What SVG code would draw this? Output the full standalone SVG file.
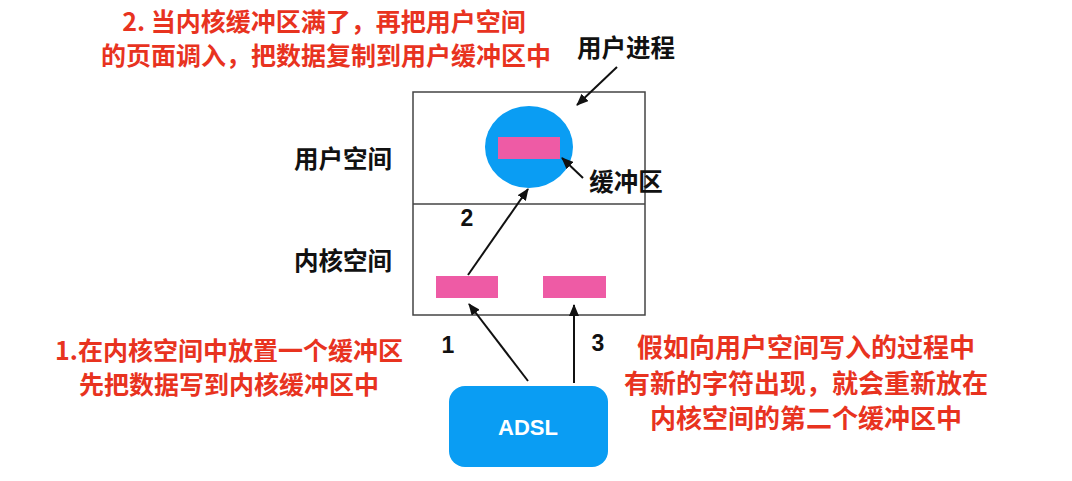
<svg xmlns="http://www.w3.org/2000/svg" width="1072" height="481" viewBox="0 0 1072 481">
<style>
.red{font-family:"Noto Sans CJK SC","Noto Sans",sans-serif;font-size:25px;font-weight:bold;fill:#E8331F;text-anchor:middle;dominant-baseline:central}
.r26{font-size:26px}
.blk{font-family:"Noto Sans CJK SC","Noto Sans",sans-serif;font-size:24.5px;font-weight:bold;fill:#111;text-anchor:middle;dominant-baseline:central}
.num{font-family:"Liberation Sans",Arial,sans-serif;font-size:23px;font-weight:bold;fill:#111;text-anchor:middle;dominant-baseline:central}
.buf{fill:#EE5BA5}
.conn{stroke:#111;stroke-width:2;fill:none;marker-end:url(#ah)}
</style>
<defs>
<marker id="ah" markerWidth="12" markerHeight="10" refX="11" refY="5" orient="auto" markerUnits="userSpaceOnUse">
<path d="M0,0 L12,5 L0,10 Z" fill="#111"/>
</marker>
</defs>
<rect width="1072" height="481" fill="#fff"/>
<g id="box">
<rect x="413" y="92" width="232" height="223" fill="none" stroke="#444" stroke-width="1.5"/>
<line x1="413" y1="204" x2="645" y2="204" stroke="#444" stroke-width="1.5"/>
</g>
<g id="user-process">
<ellipse cx="529" cy="147" rx="44" ry="41" fill="#0A9DF3"/>
<rect class="buf" x="498" y="137" width="62" height="22"/>
</g>
<g id="kernel-buf-1"><rect class="buf" x="436" y="276" width="62" height="22"/></g>
<g id="kernel-buf-2"><rect class="buf" x="543" y="276" width="63" height="22"/></g>
<g id="adsl">
<rect x="449" y="386" width="159" height="81" rx="16" fill="#0A9DF3"/>
<text x="528" y="427" font-family="Liberation Sans,Arial,sans-serif" font-size="22" font-weight="bold" fill="#fff" text-anchor="middle" dominant-baseline="central">ADSL</text>
</g>
<g id="connectors">
<line class="conn" x1="468" y1="275" x2="528" y2="189"/>
<line class="conn" x1="528" y1="381" x2="469" y2="304"/>
<line class="conn" x1="574" y1="383" x2="574" y2="305"/>
<line class="conn" x1="617" y1="67" x2="577" y2="105"/>
<line class="conn" x1="583" y1="178" x2="562" y2="158"/>
</g>
<g id="labels">
<text class="blk" x="343" y="157">用户空间</text>
<text class="blk" x="343" y="259">内核空间</text>
<text class="blk" x="626" y="46">用户进程</text>
<text class="blk" x="626" y="180">缓冲区</text>
<text class="num" x="467" y="218">2</text>
<text class="num" x="448" y="345">1</text>
<text class="num" x="598" y="343">3</text>
</g>
<g id="notes">
<text class="red" x="324" y="20">2. 当内核缓冲区满了，再把用户空间</text>
<text class="red" x="326" y="54">的页面调入，把数据复制到用户缓冲区中</text>
<text class="red" x="229" y="349">1.在内核空间中放置一个缓冲区</text>
<text class="red" x="229" y="383">先把数据写到内核缓冲区中</text>
<text class="red r26" x="806" y="345">假如向用户空间写入的过程中</text>
<text class="red r26" x="806" y="381">有新的字符出现，就会重新放在</text>
<text class="red r26" x="806" y="416">内核空间的第二个缓冲区中</text>
</g>
</svg>
